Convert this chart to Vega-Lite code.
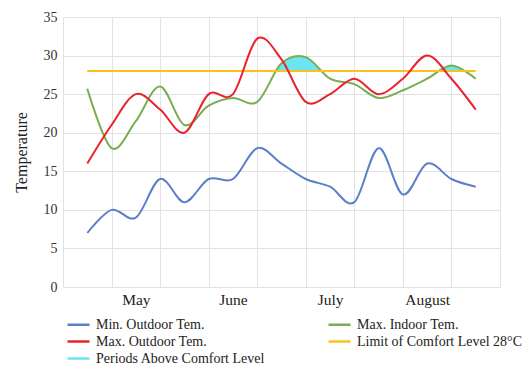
{
  "$schema": "https://vega.github.io/schema/vega-lite/v6.json",
  "width": 437,
  "height": 270,
  "autosize": "none",
  "padding": {"left": 63, "top": 17, "right": 30, "bottom": 78},
  "background": "white",
  "config": {
    "font": "Liberation Serif",
    "view": {"stroke": null},
    "axis": {"labelFont": "Liberation Serif", "titleFont": "Liberation Serif", "labelOverlap": false},
    "legend": {"labelFont": "Liberation Serif"}
  },
  "datasets": {
    "lines": [
      {"series": "Min. Outdoor Tem.", "t": 0, "v": 7},
      {"series": "Min. Outdoor Tem.", "t": 1, "v": 10},
      {"series": "Min. Outdoor Tem.", "t": 2, "v": 9},
      {"series": "Min. Outdoor Tem.", "t": 3, "v": 14},
      {"series": "Min. Outdoor Tem.", "t": 4, "v": 11},
      {"series": "Min. Outdoor Tem.", "t": 5, "v": 14},
      {"series": "Min. Outdoor Tem.", "t": 6, "v": 14},
      {"series": "Min. Outdoor Tem.", "t": 7, "v": 18},
      {"series": "Min. Outdoor Tem.", "t": 8, "v": 16},
      {"series": "Min. Outdoor Tem.", "t": 9, "v": 14},
      {"series": "Min. Outdoor Tem.", "t": 10, "v": 13},
      {"series": "Min. Outdoor Tem.", "t": 11, "v": 11},
      {"series": "Min. Outdoor Tem.", "t": 12, "v": 18},
      {"series": "Min. Outdoor Tem.", "t": 13, "v": 12},
      {"series": "Min. Outdoor Tem.", "t": 14, "v": 16},
      {"series": "Min. Outdoor Tem.", "t": 15, "v": 14},
      {"series": "Min. Outdoor Tem.", "t": 16, "v": 13},
      {"series": "Max. Indoor Tem.", "t": 0, "v": 25.7},
      {"series": "Max. Indoor Tem.", "t": 1, "v": 18},
      {"series": "Max. Indoor Tem.", "t": 2, "v": 21.5},
      {"series": "Max. Indoor Tem.", "t": 3, "v": 26},
      {"series": "Max. Indoor Tem.", "t": 4, "v": 21},
      {"series": "Max. Indoor Tem.", "t": 5, "v": 23.5},
      {"series": "Max. Indoor Tem.", "t": 6, "v": 24.5},
      {"series": "Max. Indoor Tem.", "t": 7, "v": 24},
      {"series": "Max. Indoor Tem.", "t": 8, "v": 29},
      {"series": "Max. Indoor Tem.", "t": 9, "v": 29.8},
      {"series": "Max. Indoor Tem.", "t": 10, "v": 27},
      {"series": "Max. Indoor Tem.", "t": 11, "v": 26.3},
      {"series": "Max. Indoor Tem.", "t": 12, "v": 24.5},
      {"series": "Max. Indoor Tem.", "t": 13, "v": 25.5},
      {"series": "Max. Indoor Tem.", "t": 14, "v": 27},
      {"series": "Max. Indoor Tem.", "t": 15, "v": 28.7},
      {"series": "Max. Indoor Tem.", "t": 16, "v": 27},
      {"series": "Limit of Comfort Level 28°C", "t": 0, "v": 28},
      {"series": "Limit of Comfort Level 28°C", "t": 16, "v": 28},
      {"series": "Max. Outdoor Tem.", "t": 0, "v": 16},
      {"series": "Max. Outdoor Tem.", "t": 1, "v": 21},
      {"series": "Max. Outdoor Tem.", "t": 2, "v": 25},
      {"series": "Max. Outdoor Tem.", "t": 3, "v": 23},
      {"series": "Max. Outdoor Tem.", "t": 4, "v": 20},
      {"series": "Max. Outdoor Tem.", "t": 5, "v": 25},
      {"series": "Max. Outdoor Tem.", "t": 6, "v": 25},
      {"series": "Max. Outdoor Tem.", "t": 7, "v": 32.2},
      {"series": "Max. Outdoor Tem.", "t": 8, "v": 29.5},
      {"series": "Max. Outdoor Tem.", "t": 9, "v": 24},
      {"series": "Max. Outdoor Tem.", "t": 10, "v": 25},
      {"series": "Max. Outdoor Tem.", "t": 11, "v": 27},
      {"series": "Max. Outdoor Tem.", "t": 12, "v": 25},
      {"series": "Max. Outdoor Tem.", "t": 13, "v": 27},
      {"series": "Max. Outdoor Tem.", "t": 14, "v": 30},
      {"series": "Max. Outdoor Tem.", "t": 15, "v": 27},
      {"series": "Max. Outdoor Tem.", "t": 16, "v": 23}
    ],
    "cyan": [
      {"series": "Periods Above Comfort Level", "region": 1, "t": 7.77, "v": 28},
      {"series": "Periods Above Comfort Level", "region": 1, "t": 7.85, "v": 28.43},
      {"series": "Periods Above Comfort Level", "region": 1, "t": 8, "v": 29},
      {"series": "Periods Above Comfort Level", "region": 1, "t": 8.25, "v": 29.59},
      {"series": "Periods Above Comfort Level", "region": 1, "t": 8.5, "v": 29.89},
      {"series": "Periods Above Comfort Level", "region": 1, "t": 8.75, "v": 29.95},
      {"series": "Periods Above Comfort Level", "region": 1, "t": 9, "v": 29.8},
      {"series": "Periods Above Comfort Level", "region": 1, "t": 9.25, "v": 29.31},
      {"series": "Periods Above Comfort Level", "region": 1, "t": 9.45, "v": 28.66},
      {"series": "Periods Above Comfort Level", "region": 1, "t": 9.64, "v": 28},
      {"series": "Periods Above Comfort Level", "region": 2, "t": 14.48, "v": 28},
      {"series": "Periods Above Comfort Level", "region": 2, "t": 14.6, "v": 28.26},
      {"series": "Periods Above Comfort Level", "region": 2, "t": 14.8, "v": 28.57},
      {"series": "Periods Above Comfort Level", "region": 2, "t": 15, "v": 28.7},
      {"series": "Periods Above Comfort Level", "region": 2, "t": 15.2, "v": 28.55},
      {"series": "Periods Above Comfort Level", "region": 2, "t": 15.4, "v": 28.19},
      {"series": "Periods Above Comfort Level", "region": 2, "t": 15.48, "v": 28}
    ]
  },
  "encoding": {
    "x": {
      "field": "t",
      "type": "quantitative",
      "scale": {"domain": [-1, 17], "nice": false, "zero": false},
      "axis": {
        "title": null,
        "values": [-1, 0, 1, 2, 3, 4, 5, 6, 7, 8, 9, 10, 11, 12, 13, 14, 15, 16, 17],
        "labelExpr": "datum.value == 2 ? 'May' : datum.value == 6 ? 'June' : datum.value == 10 ? 'July' : datum.value == 14 ? 'August' : ''",
        "grid": true,
        "gridColor": "#e2e2e2",
        "gridOpacity": {"condition": {"test": "datum.value % 2 != 0", "value": 1}, "value": 0},
        "ticks": false,
        "domain": false,
        "labelFont": "Liberation Serif",
        "labelFontSize": 15.5,
        "labelColor": "#222",
        "labelPadding": 5,
        "labelFlush": false,
        "labelOverlap": false
      }
    },
    "y": {
      "field": "v",
      "type": "quantitative",
      "scale": {"domain": [0, 35], "nice": false},
      "axis": {
        "title": "Temperature",
        "titleFont": "Liberation Serif",
        "titleFontSize": 16,
        "titleFontWeight": "normal",
        "titleColor": "#222",
        "titlePadding": 14,
        "values": [0, 5, 10, 15, 20, 25, 30, 35],
        "grid": true,
        "gridColor": "#e2e2e2",
        "ticks": false,
        "domain": false,
        "labelFont": "Liberation Serif",
        "labelFontSize": 14,
        "labelColor": "#333",
        "labelPadding": 6,
        "labelOverlap": false
      }
    }
  },
  "layer": [
    {
      "data": {"name": "cyan"},
      "mark": {"type": "area", "interpolate": "cardinal", "opacity": 1},
      "encoding": {
        "y2": {"datum": 28},
        "detail": {"field": "region"},
        "color": {"field": "series", "type": "nominal"}
      }
    },
    {
      "data": {"name": "lines"},
      "mark": {"type": "line", "interpolate": "cardinal", "strokeWidth": 2},
      "encoding": {
        "color": {
          "field": "series",
          "type": "nominal",
          "scale": {
            "domain": ["Min. Outdoor Tem.", "Max. Outdoor Tem.", "Periods Above Comfort Level", "Max. Indoor Tem.", "Limit of Comfort Level 28°C"],
            "range": ["#5b7fc9", "#e8232b", "#6ae6f2", "#7aad52", "#fcc21b"]
          },
          "legend": {
            "title": null,
            "orient": "none",
            "legendX": 6,
            "legendY": 298,
            "columns": 2,
            "columnPadding": 57,
            "rowPadding": 0,
            "symbolType": "M-1.375,0H1.375",
            "symbolSize": 256,
            "symbolStrokeWidth": 2.5,
            "symbolFillColor": "transparent",
            "labelFont": "Liberation Serif",
            "labelFontSize": 14,
            "labelColor": "#222",
            "labelOffset": 8,
            "labelLimit": 300
          }
        }
      }
    }
  ]
}
